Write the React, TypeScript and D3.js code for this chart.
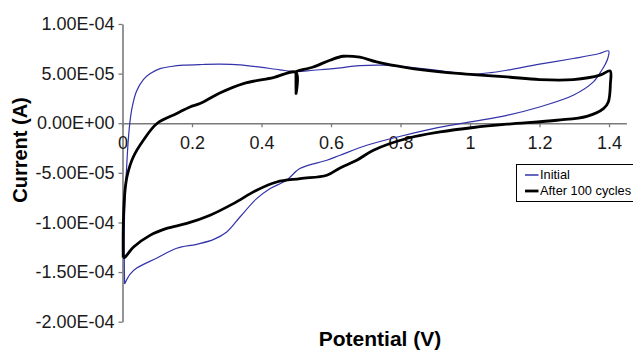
import { useEffect, useRef } from 'react';
import * as d3 from 'd3';

// Cyclic voltammograms, current in A, potential in V
const initialPotential = [
  0.006, 0.005, 0.006, 0.008, 0.011, 0.016, 0.021, 0.028, 0.04, 0.06, 0.08, 0.108, 0.14, 0.175, 0.23, 0.28,
  0.338, 0.396, 0.453, 0.5, 0.549, 0.607, 0.683, 0.75, 0.82, 0.9, 0.97, 1.01, 1.06, 1.106, 1.2, 1.297, 1.37, 1.399,
  1.397, 1.39, 1.379, 1.355, 1.297, 1.2, 1.106, 1.0, 0.894, 0.8, 0.703, 0.626, 0.588, 0.51, 0.472, 0.424, 0.386,
  0.338, 0.3, 0.261, 0.213, 0.156, 0.098, 0.041, 0.022, 0.006,
];
const initialCurrent = [
  -16.2e-5, -13e-5, -9e-5, -7e-5, -5e-5, -2e-5, 0, 1.64e-5, 3.2e-5, 4.4e-5, 5.0e-5, 5.5e-5, 5.72e-5, 5.85e-5, 5.92e-5, 5.95e-5,
  5.88e-5, 5.65e-5, 5.38e-5, 5.2e-5, 5.34e-5, 5.5e-5, 5.8e-5, 5.85e-5, 5.65e-5, 5.35e-5, 5.05e-5, 4.95e-5, 5.1e-5, 5.34e-5, 5.95e-5, 6.52e-5, 7.0e-5, 7.29e-5,
  6.6e-5, 6.0e-5, 5.34e-5, 4.17e-5, 2.82e-5, 1.64e-5, 0.8e-5, 0.13e-5, -0.54e-5, -1.31e-5, -2.22e-5, -3.23e-5, -3.73e-5, -4.57e-5, -5.75e-5, -6.6e-5, -7.6e-5,
  -9.45e-5, -10.96e-5, -11.73e-5, -12.2e-5, -12.6e-5, -13.6e-5, -14.6e-5, -15.2e-5, -16.2e-5,
];

const cyclesPotential = [
  0.002, 0.002, 0.004, 0.008, 0.014, 0.031, 0.06, 0.1, 0.156, 0.194, 0.223, 0.28, 0.348, 0.434, 0.499, 0.4995, 0.4995, 0.5,
  0.549, 0.597, 0.635, 0.683, 0.731, 0.818, 0.914, 1.01, 1.106, 1.2, 1.297, 1.374, 1.403,
  1.404, 1.398, 1.384, 1.336, 1.25, 1.106, 1.01, 0.914, 0.818, 0.722, 0.674, 0.626, 0.588, 0.511, 0.444, 0.386,
  0.319, 0.252, 0.185, 0.127, 0.079, 0.031, 0.007, 0.002,
];
const cyclesCurrent = [
  -13.54e-5, -11e-5, -8.5e-5, -6.5e-5, -5.2e-5, -3.4e-5, -1.71e-5, 0, 0.98e-5, 1.64e-5, 1.98e-5, 3.05e-5, 4.0e-5, 4.6e-5, 5.12e-5, 3.0e-5, 5.15e-5, 5.2e-5,
  5.67e-5, 6.35e-5, 6.75e-5, 6.65e-5, 6.18e-5, 5.6e-5, 5.17e-5, 4.9e-5, 4.67e-5, 4.4e-5, 4.4e-5, 4.84e-5, 5.27e-5,
  4.0e-5, 2.15e-5, 1.48e-5, 0.7e-5, 0.3e-5, -0.1e-5, -0.43e-5, -0.88e-5, -1.54e-5, -2.72e-5, -3.73e-5, -4.5e-5, -5.24e-5, -5.58e-5, -5.92e-5, -6.75e-5,
  -8.1e-5, -9.27e-5, -10.1e-5, -10.6e-5, -11.3e-5, -12.5e-5, -13.5e-5, -13.54e-5,
];

const seriesNames = ['Initial', 'After 100 cycles'];
const xTicks = [0, 0.2, 0.4, 0.6, 0.8, 1, 1.2, 1.4];
const xTickLabels = ['0', '0.2', '0.4', '0.6', '0.8', '1', '1.2', '1.4'];
const yTicks = [-2e-4, -1.5e-4, -1e-4, -5e-5, 0, 5e-5, 1e-4];
const yTickLabels = ['-2.00E-04', '-1.50E-04', '-1.00E-04', '-5.00E-05', '0.00E+00', '5.00E-05', '1.00E-04'];

const width = 633;
const height = 350;
const font = 'Arial, "Liberation Sans", sans-serif';

export default function App() {
  const svgRef = useRef<SVGSVGElement>(null);

  useEffect(() => {
    document.body.style.margin = '0';
    if (!svgRef.current) return;
    const svg = d3.select(svgRef.current);
    svg.selectAll('*').remove();

    const x = d3.scaleLinear().domain([0, 1.45]).range([122.5, 626.4]);
    const y = d3.scaleLinear().domain([-2e-4, 1e-4]).range([321.7, 24]);

    // Y axis
    const yAxis = svg.append('g')
      .attr('transform', `translate(${x(0)},0)`)
      .call(
        d3.axisLeft(y)
          .tickValues(yTicks)
          .tickSize(4)
          .tickSizeOuter(0)
          .tickPadding(4)
          .tickFormat((_, i) => yTickLabels[i])
      );
    yAxis.select('.domain').attr('stroke', '#7a7a7a').attr('stroke-width', 1.6);
    yAxis.selectAll('.tick line').attr('stroke', '#7a7a7a').attr('stroke-width', 1.3);
    yAxis.selectAll('.tick text')
      .attr('font-family', font)
      .attr('font-size', 18)
      .attr('fill', '#1a1a1a');

    // X axis crosses at zero
    const xAxis = svg.append('g')
      .attr('transform', `translate(0,${y(0)})`)
      .call(
        d3.axisBottom(x)
          .tickValues(xTicks)
          .tickSize(4)
          .tickSizeOuter(0)
          .tickPadding(9)
          .tickFormat((_, i) => xTickLabels[i])
      );
    xAxis.select('.domain').attr('stroke', '#7a7a7a').attr('stroke-width', 1.3);
    xAxis.selectAll('.tick line').attr('stroke', '#7a7a7a').attr('stroke-width', 1.3);
    xAxis.selectAll('.tick text')
      .attr('font-family', font)
      .attr('font-size', 18)
      .attr('fill', '#1a1a1a');

    const line = d3.line<[number, number]>()
      .x(d => x(d[0]))
      .y(d => y(d[1]))
      .curve(d3.curveCatmullRom.alpha(0.5));

    const initial = initialPotential.map((v, i) => [v, initialCurrent[i]] as [number, number]);
    const cycles = cyclesPotential.map((v, i) => [v, cyclesCurrent[i]] as [number, number]);

    svg.append('path')
      .datum(initial)
      .attr('d', line)
      .attr('fill', 'none')
      .attr('stroke', '#3333aa')
      .attr('stroke-width', 1.2);

    svg.append('path')
      .datum(cycles)
      .attr('d', line)
      .attr('fill', 'none')
      .attr('stroke', '#000')
      .attr('stroke-width', 2.8)
      .attr('stroke-linejoin', 'round');

    // Axis titles
    svg.append('text')
      .attr('x', 380)
      .attr('y', 346)
      .attr('text-anchor', 'middle')
      .attr('font-family', font)
      .attr('font-weight', 'bold')
      .attr('font-size', 21)
      .attr('fill', '#000')
      .text('Potential (V)');

    svg.append('text')
      .attr('transform', 'translate(27,150) rotate(-90)')
      .attr('text-anchor', 'middle')
      .attr('font-family', font)
      .attr('font-weight', 'bold')
      .attr('font-size', 20)
      .attr('fill', '#000')
      .text('Current (A)');

    // Legend
    const legend = svg.append('g').attr('transform', 'translate(516.5,164.5)');
    legend.append('rect')
      .attr('width', 140)
      .attr('height', 37)
      .attr('fill', '#fff')
      .attr('stroke', '#000')
      .attr('stroke-width', 1);
    const colors = ['#3333aa', '#000'];
    const widths = [1.5, 2.8];
    seriesNames.forEach((name, i) => {
      const cy = 10.5 + i * 16;
      legend.append('line')
        .attr('x1', 8.5).attr('x2', 22)
        .attr('y1', cy).attr('y2', cy)
        .attr('stroke', colors[i])
        .attr('stroke-width', widths[i]);
      legend.append('text')
        .attr('x', 23.5)
        .attr('y', cy)
        .attr('dy', '0.35em')
        .attr('font-family', font)
        .attr('font-size', 12.8)
        .attr('fill', '#000')
        .text(name);
    });
  }, []);

  return <svg ref={svgRef} width={width} height={height} style={{ display: 'block', background: '#fff' }} />;
}
